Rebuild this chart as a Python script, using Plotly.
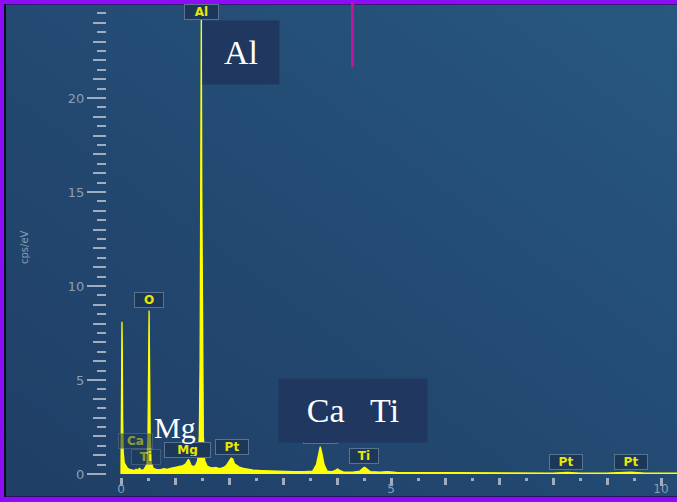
import base64
import plotly.graph_objects as go

W, H = 677, 502

# ---- spectrum data (energy keV, counts cps/eV) ----
energy = [0.00, 0.005, 0.012, 0.018, 0.024, 0.03, 0.04, 0.06, 0.09, 0.12, 0.16, 0.20,
          0.25, 0.28, 0.31, 0.34, 0.38, 0.42, 0.45, 0.48, 0.50, 0.51, 0.52, 0.53, 0.54,
          0.56, 0.60, 0.65, 0.70, 0.75, 0.80, 0.85, 0.90, 0.95, 1.00, 1.05, 1.10, 1.15,
          1.20, 1.23, 1.25, 1.27, 1.30, 1.34, 1.38, 1.42, 1.45, 1.465, 1.478, 1.487,
          1.496, 1.509, 1.525, 1.55, 1.60, 1.65, 1.70, 1.76, 1.80, 1.85, 1.90, 1.95,
          2.00, 2.04, 2.07, 2.10, 2.15, 2.20, 2.27, 2.35, 2.45, 2.60, 2.80, 3.00, 3.20,
          3.40, 3.55, 3.62, 3.66, 3.69, 3.72, 3.76, 3.82, 3.90, 3.97, 4.01, 4.05, 4.12,
          4.30, 4.42, 4.48, 4.51, 4.55, 4.62, 4.80, 4.93, 5.10, 5.50, 6.00, 6.50, 7.00,
          7.50, 8.00, 8.27, 8.50, 9.00, 9.44, 9.70, 10.30]
cps = [0.0, 3.0, 6.9, 8.1, 6.5, 3.0, 1.2, 0.6, 0.4, 0.3, 0.25, 0.2,
       0.18, 0.25, 0.2, 0.3, 0.2, 0.22, 0.35, 0.5, 2.0, 5.5, 8.7, 5.5, 2.0,
       0.6, 0.3, 0.25, 0.22, 0.25, 0.28, 0.25, 0.3, 0.32, 0.35, 0.38, 0.42, 0.45,
       0.55, 0.7, 0.78, 0.65, 0.45, 0.4, 0.45, 0.7, 2.0, 6.0, 15.0, 24.2,
       15.0, 6.0, 2.0, 0.7, 0.4, 0.35, 0.32, 0.35, 0.3, 0.3, 0.35, 0.45,
       0.7, 0.85, 0.8, 0.55, 0.45, 0.35, 0.3, 0.25, 0.2, 0.18, 0.15, 0.14, 0.12,
       0.12, 0.15, 0.5, 1.1, 1.45, 1.1, 0.5, 0.15, 0.12, 0.2, 0.27, 0.2, 0.1,
       0.1, 0.15, 0.3, 0.36, 0.28, 0.12, 0.1, 0.13, 0.08, 0.07, 0.06, 0.05, 0.05,
       0.05, 0.05, 0.08, 0.05, 0.05, 0.1, 0.05, 0.04]

# peak tags (element labels) and where they sit (keV, cps/eV)
tag_text = ["Al", "O", "Ca", "Ti", "Mg", "Pt", "Ca", "Ti", "Pt", "Pt"]
tag_x = [1.487, 0.525, 0.26, 0.46, 1.24, 2.06, 3.69, 4.50, 8.24, 9.44]
tag_y = [24.57, 9.26, 1.76, 0.90, 1.28, 1.44, 2.02, 0.96, 0.64, 0.64]
tag_faded = [False, False, True, True, False, False, False, False, False, False]

y_title = "cps/eV"

# ---- geometry helpers (pixels -> paper) ----
def px(x):
    return x / W

def py(y):
    return 1 - y / H

X0PX, KEV_PX = 121, 54.0
Y0PX, CPS_PX = 474, 18.8
plot_left, plot_top, plot_bottom = 112, 5, 477
xr = [-(X0PX - plot_left) / KEV_PX, (W - X0PX) / KEV_PX]
yr = [(Y0PX - plot_bottom) / CPS_PX, (Y0PX - plot_top) / CPS_PX]

fig = go.Figure()
fig.add_trace(go.Scatter(x=energy, y=cps, mode="lines",
                         line=dict(color="#ffff00", width=1.3),
                         fill="tozeroy", fillcolor="#ffff00",
                         hoverinfo="skip", showlegend=False))
fig.add_trace(go.Scatter(x=energy, y=cps, mode="lines", xaxis="x2", yaxis="y2",
                         line=dict(color="rgba(0,0,0,0)", width=0),
                         hoverinfo="skip", showlegend=False))

tickc = "#9fadbf"
labc = "#8d9eb3"
common = dict(showgrid=False, zeroline=False, showline=False, automargin=False)
fig.update_layout(
    template="none",
    width=W, height=H, autosize=False,
    margin=dict(l=0, r=0, t=0, b=0, pad=0),
    paper_bgcolor="#22466e",
    plot_bgcolor="rgba(0,0,0,0)",
    xaxis=dict(domain=[px(plot_left), 1], range=xr, anchor="y", **common,
               ticks="outside", tickmode="linear", tick0=0, dtick=5,
               ticklen=8, tickwidth=3, tickcolor=tickc, ticklabelstandoff=-7,
               tickfont=dict(family="DejaVu Sans", size=12, color=labc),
               minor=dict(ticks="outside", tick0=0, dtick=1, ticklen=7,
                          tickwidth=2.5, tickcolor=tickc, showgrid=False)),
    xaxis2=dict(overlaying="x", range=xr, anchor="y", domain=[px(plot_left), 1],
                **common, ticks="outside", tickmode="linear", tick0=0, dtick=0.5,
                ticklen=3, tickwidth=2.5, tickcolor=tickc, showticklabels=False),
    yaxis=dict(domain=[py(plot_bottom), py(plot_top)], range=yr,
               anchor="free", position=px(106), **common,
               ticks="outside", tickmode="linear", tick0=0, dtick=5,
               ticklen=19, tickwidth=1.5, tickcolor=tickc,
               tickfont=dict(family="DejaVu Sans", size=13, color=labc),
               minor=dict(ticks="outside", tick0=0, dtick=0.5, ticklen=9,
                          tickwidth=1.5, tickcolor=tickc, showgrid=False)),
    yaxis2=dict(overlaying="y", range=yr, anchor="free", position=px(106),
                domain=[py(plot_bottom), py(plot_top)], **common,
                ticks="outside", tickmode="linear", tick0=0, dtick=1,
                ticklen=13, tickwidth=1.5, tickcolor=tickc, showticklabels=False),
)

# background gradient
svg = ("<svg xmlns='http://www.w3.org/2000/svg' width='677' height='502'>"
       "<defs><linearGradient id='g' x1='0' y1='1' x2='1' y2='0'>"
       "<stop offset='0' stop-color='#203e66'/><stop offset='0.5' stop-color='#234a72'/>"
       "<stop offset='1' stop-color='#275880'/></linearGradient></defs>"
       "<rect width='677' height='502' fill='url(#g)'/></svg>")
src = "data:image/svg+xml;base64," + base64.b64encode(svg.encode()).decode()
fig.add_layout_image(dict(source=src, xref="paper", yref="paper", x=0, y=1,
                          sizex=1, sizey=1, sizing="stretch", layer="below",
                          xanchor="left", yanchor="top"))

# y-axis title
fig.add_annotation(text=y_title, xref="paper", yref="paper",
                   x=px(24), y=py(247), xanchor="center", yanchor="middle",
                   showarrow=False, textangle=-90,
                   font=dict(family="DejaVu Sans", size=10, color=labc))

# peak tags
tag_w = {"Al": 31, "O": 26, "Ca": 31, "Ti": 26, "Mg": 43, "Pt": 30}
for t, xv, yv, fd in zip(tag_text, tag_x, tag_y, tag_faded):
    fig.add_annotation(text="<b>%s</b>" % t, x=xv, y=yv, xref="x", yref="y",
                       xanchor="center", yanchor="middle",
                       width=tag_w[t], height=12,
                       showarrow=False, bgcolor="#1c3758", bordercolor="#5a738e",
                       borderwidth=1, borderpad=1, opacity=0.55 if fd else 1,
                       font=dict(family="DejaVu Sans", size=12, color="#e8e800"))

# big serif labels
serif = dict(family="Liberation Serif", size=34, color="white")
fig.add_annotation(text="Al", xref="paper", yref="paper", x=px(241), y=py(52.5),
                   xanchor="center", yanchor="middle",
                   width=76, height=63, bgcolor="#203760", borderpad=0,
                   showarrow=False, font=serif)
fig.add_annotation(text="Ca&nbsp;&nbsp;&nbsp;Ti", xref="paper", yref="paper",
                   x=px(353), y=py(410.5), xanchor="center", yanchor="middle",
                   width=148, height=63,
                   bgcolor="#203760", borderpad=0, showarrow=False, font=serif)
fig.add_annotation(text="Mg", xref="paper", yref="paper", x=px(174.5), y=py(427),
                   xanchor="center", yanchor="middle", showarrow=False,
                   font=dict(family="Liberation Serif", size=30, color="white"))

# frame and marker line
def rect(x0, y0, x1, y1, color):
    fig.add_shape(type="rect", xref="paper", yref="paper",
                  x0=px(x0), x1=px(x1), y0=py(y1), y1=py(y0),
                  fillcolor=color, line=dict(width=0), layer="above")

rect(0, 0, W, 4, "#8c0ef6")
rect(0, 4, W, 5, "#3a1778")
rect(0, 0, 4, H, "#8c0ef6")
rect(4, 4, 6, H - 5, "#0a0a1a")
rect(0, H - 5, W, H, "#8c0ef6")
rect(6, H - 6, W, H - 5, "#2a1460")
rect(351, 2, 354, 67, "#c8109c")

fig.write_html("out.html")
